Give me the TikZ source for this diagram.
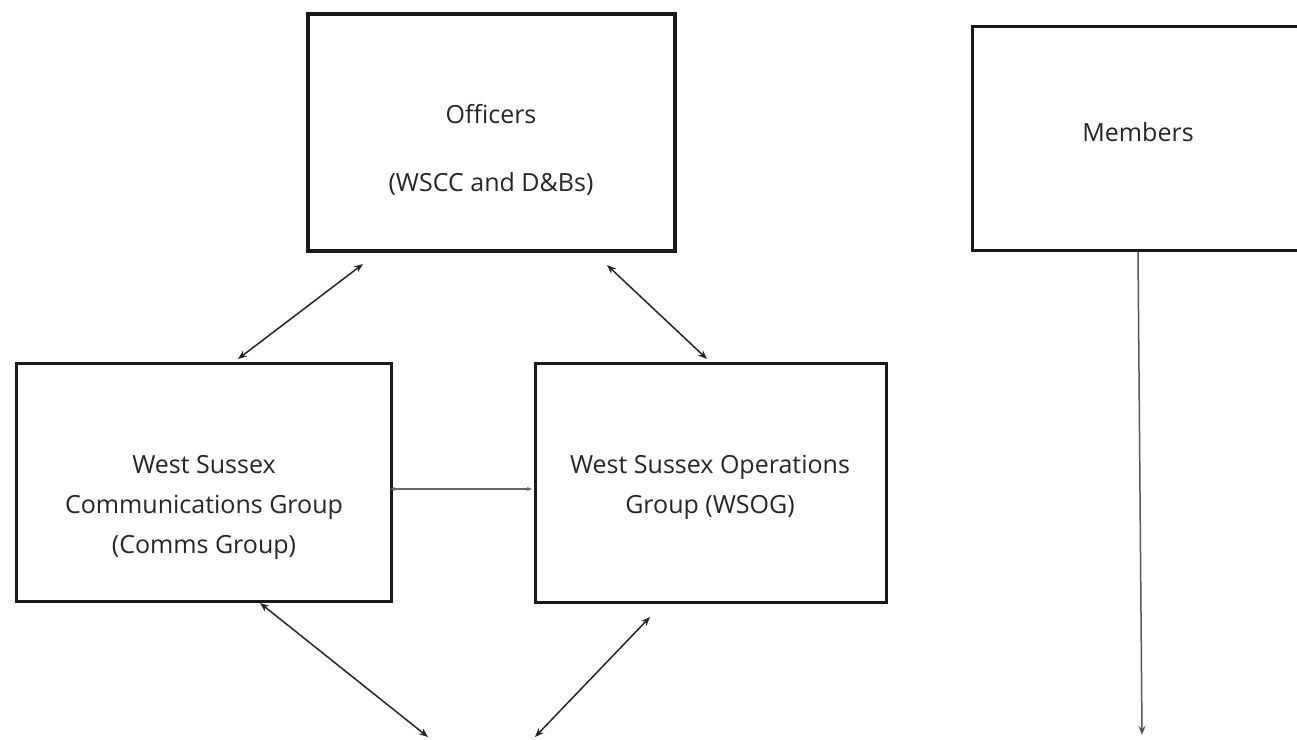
\documentclass[tikz,border=0pt]{standalone}
\usepackage{fontspec}
\setmainfont{Open Sans}
\usetikzlibrary{arrows.meta}
\tikzset{
  box/.style={draw=black!90, rectangle, line width=3pt, inner sep=0pt},
  lbl/.style={align=center, text=black!85, font=\fontsize{25}{40}\selectfont},
  link/.style={draw=black!85, line width=1.5pt, {Stealth[length=9pt,width=7pt]}-{Stealth[length=9pt,width=7pt]}},
  thinlink/.style={draw=black!60, line width=1.1pt, {Stealth[length=5pt,width=4pt]}-{Stealth[length=5pt,width=4pt]}},
  onelink/.style={draw=black!65, line width=1.5pt, -{Stealth[length=9pt,width=7pt]}}
}
\begin{document}
\begin{tikzpicture}[x=1pt,y=-1pt]
\useasboundingbox (0,0) rectangle (1297,739);
\clip (0,0) rectangle (1297,739);
\fill[white] (0,0) rectangle (1297,739);
% boxes
\node[box, line width=4pt, minimum width=367pt, minimum height=237pt] (off) at (491.5,132.5) {};
\node[box, minimum width=331pt, minimum height=224pt] (mem) at (1138,138.5) {};
\node[box, minimum width=375pt, minimum height=238pt] (com) at (204,482.5) {};
\node[box, minimum width=351pt, minimum height=239pt] (ops) at (711,483) {};
% texts
\node[lbl] (offt) at (491,150) {Officers\\[28pt](WSCC and D\&Bs)};
\node[lbl] (memt) at (1138,132) {Members};
\node[lbl] (comt) at (204,507) {West Sussex\\Communications Group\\(Comms Group)};
\node[lbl] (opst) at (710,487) {West Sussex Operations\\Group (WSOG)};
% free ends
\coordinate (a1t) at (363,264);
\coordinate (a1b) at (238,359);
\coordinate (a2t) at (607,265);
\coordinate (a2b) at (707,359);
\coordinate (a3l) at (390,489);
\coordinate (a3r) at (532,489);
\coordinate (a4t) at (260,603);
\coordinate (a4b) at (428,737);
\coordinate (a5t) at (650,617);
\coordinate (a5b) at (535,737);
\coordinate (a6t) at (1138,252);
\coordinate (a6b) at (1142,735);
% connectors
\draw[link] (a1t) -- (a1b);
\draw[link] (a2t) -- (a2b);
\draw[thinlink] (a3l) -- (a3r);
\draw[link] (a4t) -- (a4b);
\draw[link] (a5t) -- (a5b);
\draw[onelink] (a6t) -- (a6b);
\end{tikzpicture}
\end{document}
